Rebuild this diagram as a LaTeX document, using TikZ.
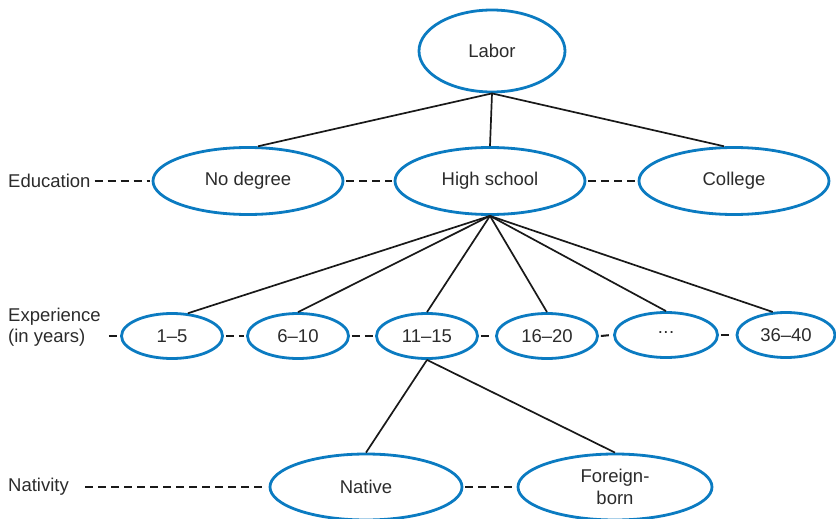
\documentclass[tikz,border=0pt]{standalone}
\usepackage{fontspec}
\setmainfont{Liberation Sans}
\usetikzlibrary{shapes.geometric}
\definecolor{ellblue}{HTML}{0B7BC1}
\definecolor{txt}{HTML}{2B2B2B}
\begin{document}
\begin{tikzpicture}[x=1pt,y=-1pt,
  ell/.style={ellipse, draw=ellblue, line width=2.8pt, inner sep=0pt, text=txt,
    font=\fontsize{18.5}{22}\selectfont, align=center},
  big/.style={ell, minimum width=190pt, minimum height=67pt},
  small/.style={ell, minimum width=101pt, minimum height=45pt},
  lab/.style={text=txt, font=\fontsize{18.5}{21}\selectfont, inner sep=0pt, align=left, anchor=west},
  link/.style={line width=1.7pt, draw=black!90},
  dsh/.style={line width=2pt, draw=black!90, dash pattern=on 8pt off 5pt}
]
\useasboundingbox (0,0) rectangle (836,519);

% nodes
\node[ell, minimum width=146pt, minimum height=82pt] (labor) at (492,51) {Labor};
\node[big] (nodeg) at (248,181) {No degree};
\node[big] (hs) at (490,181) {High school};
\node[big] (coll) at (734,181) {College};

\node[small] (e1) at (172,336) {1--5};
\node[small] (e2) at (298,336) {6--10};
\node[small] (e3) at (427,336) {11--15};
\node[small] (e4) at (547,336) {16--20};
\node[small, minimum width=103pt] (e5) at (666,335) {\raisebox{0.3em}{.\kern0.5pt.\kern0.5pt.}};
\node[small, minimum width=98pt] (e6) at (786,335) {36--40};

\node[big, minimum width=192pt, minimum height=66pt] (native) at (366,487) {Native};
\node[big, minimum width=194pt, minimum height=66pt] (foreign) at (615,487) {Foreign-\\born};

% labels
\node[lab] (edu) at (8,181) {Education};
\node[lab] (exp) at (8,327) {Experience\\(in years)};
\node[lab] (nat) at (8,487) {Nativity};

% tree links
\draw[link] (labor.south) -- (nodeg.74);
\draw[link] (labor.south) -- (hs.north);
\draw[link] (labor.south) -- (coll.106);

\draw[link] (hs.south) -- (e1.55);
\draw[link] (hs.south) -- (e2.north);
\draw[link] (hs.south) -- (e3.north);
\draw[link] (hs.south) -- (e4.north);
\draw[link] (hs.south) -- (e5.north);
\draw[link] (hs.south) -- (e6.120);

\draw[link] (e3.south) -- (native.north);
\draw[link] (e3.south) -- (foreign.north);

% dashed level connectors
\draw[dsh] ([xshift=4pt]edu.east) -- ([xshift=-2pt]nodeg.west);
\draw[dsh] ([xshift=2pt]nodeg.east) -- ([xshift=-2pt]hs.west);
\draw[dsh] ([xshift=2pt]hs.east) -- ([xshift=-2pt]coll.west);

\draw[dsh] ([xshift=8pt]exp.east |- e1.west) -- ([xshift=-2pt]e1.west);
\draw[dsh] ([xshift=2pt]e1.east) -- ([xshift=-2pt]e2.west);
\draw[dsh] ([xshift=2pt]e2.east) -- ([xshift=-2pt]e3.west);
\draw[dsh] ([xshift=2pt]e3.east) -- ([xshift=-2pt]e4.west);
\draw[dsh] ([xshift=2pt]e4.east) -- ([xshift=-2pt]e5.west);
\draw[dsh] ([xshift=2pt]e5.east) -- ([xshift=-2pt]e6.west);

\draw[dsh] ([xshift=16pt]nat.east) -- ([xshift=-3pt]native.west);
\draw[dsh] ([xshift=2pt]native.east) -- ([xshift=-2pt]foreign.west);
\end{tikzpicture}
\end{document}
